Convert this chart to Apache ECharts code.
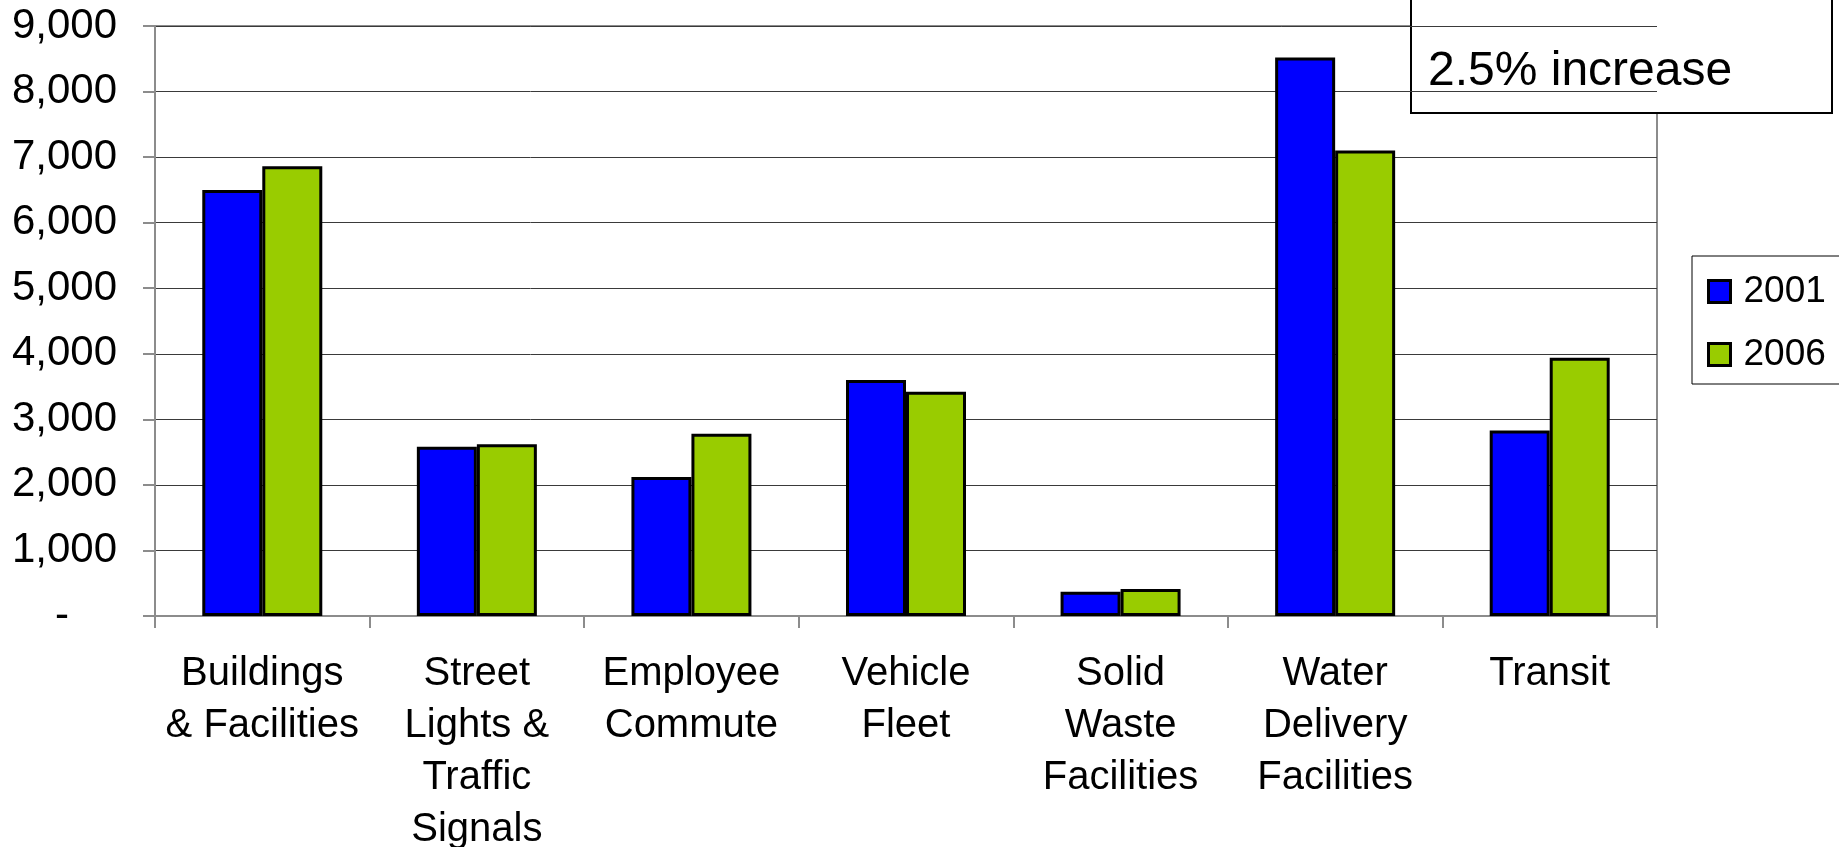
<!DOCTYPE html>
<html>
<head>
<meta charset="utf-8">
<script src="https://cdn.jsdelivr.net/npm/echarts@6/dist/echarts.min.js"></script>
<style>
html, body { margin: 0; padding: 0; background: #fff; }
#main { width: 1839px; height: 847px; }
</style>
</head>
<body>
<div id="main"></div>
<script>
var categories = ['Buildings\n& Facilities', 'Street\nLights &\nTraffic\nSignals', 'Employee\nCommute',
	'Vehicle\nFleet', 'Solid\nWaste\nFacilities', 'Water\nDelivery\nFacilities', 'Transit'];
var seriesNames = ['2001', '2006'];
var values2001 = [6500, 2580, 2120, 3600, 370, 8520, 2830];
var values2006 = [6860, 2620, 2780, 3420, 410, 7100, 3940];
var noteText = '2.5% increase';

var font = '"Liberation Sans", Arial, sans-serif';

var myChart = echarts.init(document.getElementById('main'));
var option = {
	animation : false,
	backgroundColor : '#fff',
	textStyle : { fontFamily : font, color : '#000' },
	grid : {
		left : 155, right : 182, top : 26, bottom : 231,
		outerBoundsMode : 'none',
		containLabel : false,
		show : true, borderColor : '#8c8c8c', borderWidth : 2
	},
	legend : {
		orient : 'vertical',
		left : 1692, top : 256,
		width : 146, height : 127,
		padding : [15, 14, 9, 15],
		itemGap : 22,
		itemWidth : 22, itemHeight : 22,
		borderColor : '#000', borderWidth : 1,
		icon : 'rect',
		itemStyle : { borderColor : '#000', borderWidth : 3 },
		textStyle : { fontSize : 37, lineHeight : 41, fontFamily : font, color : '#000', padding : [0, 0, 0, 8] },
		data : seriesNames
	},
	xAxis : [ {
		type : 'category',
		data : categories,
		axisLine : { lineStyle : { color : '#8c8c8c', width : 2 } },
		axisTick : { show : true, length : 12, lineStyle : { color : '#8c8c8c', width : 2 } },
		axisLabel : { interval : 0, fontSize : 40, lineHeight : 52, margin : 32, color : '#000', fontFamily : font }
	} ],
	yAxis : [ {
		type : 'value',
		min : 0, max : 9000, interval : 1000,
		axisLine : { show : true, lineStyle : { color : '#8c8c8c', width : 2 } },
		axisTick : { show : true, length : 12, lineStyle : { color : '#8c8c8c', width : 2 } },
		splitLine : { lineStyle : { color : '#3a3a3a', width : 1 } },
		axisLabel : {
			fontSize : 42, margin : 38, color : '#000', fontFamily : font,
			formatter : function(v) {
				return v === 0 ? '{dash|-}' : v.toLocaleString('en-US');
			},
			rich : {
				dash : { fontSize : 42, fontFamily : font, color : '#000', padding : [0, 48, 0, 0] }
			}
		}
	} ],
	series : [ {
		name : seriesNames[0],
		type : 'bar',
		data : values2001,
		barWidth : 60,
		barGap : '0%',
		itemStyle : { color : '#0000ff', borderColor : '#000', borderWidth : 3 }
	}, {
		name : seriesNames[1],
		type : 'bar',
		data : values2006,
		barWidth : 60,
		barGap : '0%',
		itemStyle : { color : '#99cc00', borderColor : '#000', borderWidth : 3 }
	} ],
	graphic : [ {
		type : 'group',
		z : 100,
		children : [ {
			type : 'rect',
			shape : { x : 1411, y : -10, width : 421, height : 123 },
			style : { fill : '#fff', stroke : '#000', lineWidth : 2 }
		}, {
			type : 'text',
			x : 1428, y : 72,
			style : {
				text : noteText,
				font : '48px "Liberation Sans", Arial, sans-serif',
				fill : '#000',
				textVerticalAlign : 'middle'
			}
		} ]
	} ]
};
myChart.setOption(option);
</script>
</body>
</html>
